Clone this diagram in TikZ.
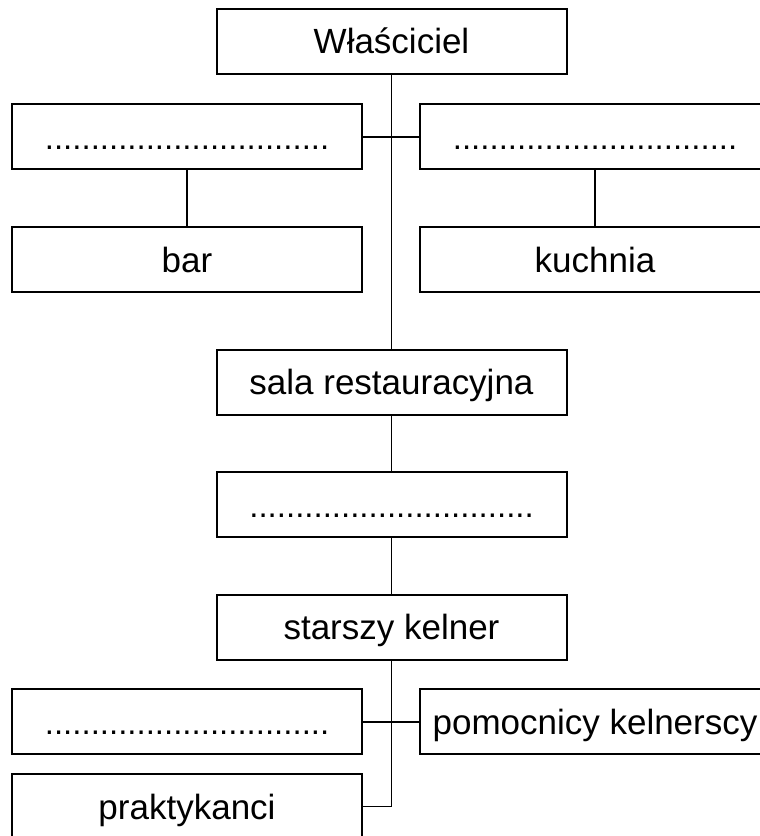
\documentclass[tikz,border=0pt]{standalone}
\usepackage{fontspec}
\setmainfont{Liberation Sans}
\begin{document}
\begin{tikzpicture}[x=1pt,y=-1pt,
  box/.style={draw=black,line width=2pt,minimum width=350pt,minimum height=65pt,inner sep=0pt,
    text height=25pt,text depth=0pt,font=\fontsize{35}{40}\selectfont},
  dotbox/.style={box,font=\fontsize{33}{40}\selectfont},
  conn/.style={draw=black,line width=1.8pt}]
\clip (0,0) rectangle (760,836);
\fill[white] (0,0) rectangle (760,836);
\node[box] (own) at (391.5,41.3) {Właściciel};
\node[dotbox] (d1) at (187,136.7) {...............................};
\node[dotbox] (d2) at (595,136.7) {...............................};
\node[box] (bar) at (187,259.7) {bar};
\node[box] (kuch) at (595,259.7) {kuchnia};
\node[box] (sala) at (391.5,382.2) {sala restauracyjna};
\node[dotbox] (d3) at (391.5,504.7) {...............................};
\node[box] (star) at (391.5,627.3) {starszy kelner};
\node[dotbox] (d4) at (187,721.8) {...............................};
\node[box] (pom) at (595,721.8) {pomocnicy kelnerscy};
\node[box] (prak) at (187,806.5) {praktykanci};
\draw[conn] (own.south) -- (sala.north);
\draw[conn] (d1.east) -- (d2.west);
\draw[conn] (d1.south) -- (bar.north);
\draw[conn] (d2.south) -- (kuch.north);
\draw[conn] (sala.south) -- (d3.north);
\draw[conn] (d3.south) -- (star.north);
\draw[conn] (star.south) |- (prak.east);
\draw[conn] (d4.east) -- (pom.west);
\end{tikzpicture}
\end{document}
